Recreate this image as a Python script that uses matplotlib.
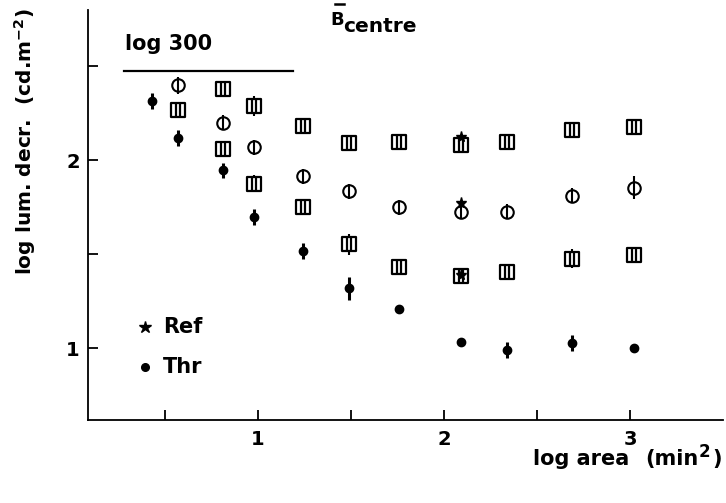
import numpy as np
import matplotlib.pyplot as plt
from matplotlib.path import Path
from matplotlib.lines import Line2D

# log area (min^2) of the test fields
log_area = [0.43, 0.57, 0.81, 0.98, 1.24, 1.49, 1.76, 2.09, 2.34, 2.69, 3.02]

# threshold (filled symbols), all areas
thr = [2.315, 2.12, 1.947, 1.70, 1.518, 1.318, 1.21, 1.03, 0.99, 1.028, 0.998]
thr_err = [0.042, 0.042, 0.04, 0.042, 0.042, 0.06, 0.0, 0.0, 0.042, 0.042, 0.0]

# open circles, from the second area on
circ = [2.40, 2.20, 2.07, 1.916, 1.835, 1.75, 1.725, 1.725, 1.81, 1.855]
circ_err = [0.045, 0.04, 0.04, 0.04, 0.04, 0.04, 0.04, 0.04, 0.04, 0.06]

# upper squares, from the third area on
sq_hi = [2.38, 2.29, 2.18, 2.09, 2.10, 2.08, 2.10, 2.16, 2.177]
sq_hi_err = [0.0, 0.055, 0.0, 0.0, 0.0, 0.0, 0.0, 0.0, 0.0]

# lower squares, from the second area on
sq_lo = [2.27, 2.06, 1.875, 1.75, 1.553, 1.43, 1.385, 1.405, 1.477, 1.495]
sq_lo_err = [0.0, 0.0, 0.045, 0.0, 0.055, 0.0, 0.0, 0.0, 0.05, 0.0]

# reference points at log area 2.09
ref_x = [2.09, 2.09, 2.09]
ref_y = [2.124, 1.77, 1.39]

log300 = np.log10(300)

plt.rcParams['font.family'] = 'DejaVu Sans'
plt.rcParams['font.weight'] = 'bold'

# square with two inner vertical strokes
sq_path = Path(
    [(-1, -1), (1, -1), (1, 1), (-1, 1), (-1, -1),
     (-0.3, -1), (-0.3, 1), (0.3, -1), (0.3, 1)],
    [Path.MOVETO, Path.LINETO, Path.LINETO, Path.LINETO, Path.CLOSEPOLY,
     Path.MOVETO, Path.LINETO, Path.MOVETO, Path.LINETO])

fig = plt.figure(figsize=(7.26, 5.03), dpi=100)
ax = fig.add_axes([0.1212, 0.165, 0.8747, 0.815])

ax.errorbar(log_area, thr, yerr=thr_err, fmt='o', ms=6, color='black',
            elinewidth=2.2, capsize=0, zorder=3)
ax.errorbar(log_area[1:], circ, yerr=circ_err, fmt='o', ms=9, mfc='none',
            mec='black', mew=1.5, color='black', elinewidth=1.5, capsize=0, zorder=3)
ax.errorbar(log_area[2:], sq_hi, yerr=sq_hi_err, fmt='none', ecolor='black',
            elinewidth=1.5, capsize=0, zorder=2)
ax.plot(log_area[2:], sq_hi, linestyle='none', marker=sq_path, ms=9.5,
        mfc='white', mec='black', mew=1.6, zorder=3)
ax.errorbar(log_area[1:], sq_lo, yerr=sq_lo_err, fmt='none', ecolor='black',
            elinewidth=1.5, capsize=0, zorder=2)
ax.plot(log_area[1:], sq_lo, linestyle='none', marker=sq_path, ms=9.5,
        mfc='white', mec='black', mew=1.6, zorder=3)
ax.plot(ref_x, ref_y, linestyle='none', marker='*', ms=8, color='black', zorder=4)

# legend drawn by hand
ax.plot([0.39], [1.113], marker='*', ms=9, color='black', linestyle='none')
ax.plot([0.39], [0.90], marker='o', ms=5.5, color='black', linestyle='none')
ax.text(0.49, 1.113, 'Ref', fontsize=15, fontweight='bold', va='center')
ax.text(0.49, 0.90, 'Thr', fontsize=15, fontweight='bold', va='center')

# log 300 limit
ax.plot([0.28, 1.19], [log300, log300], color='black', lw=1.6)
ax.text(0.285, log300 + 0.09, 'log 300', fontsize=15, fontweight='bold', va='bottom')

ax.set_xlim(0.086, 3.5)
ax.set_ylim(0.617, 2.80)
ax.set_xticks([0.5, 1, 1.5, 2, 2.5, 3])
ax.set_xticklabels(['', '1', '', '2', '', '3'])
ax.set_yticks([1, 1.5, 2, 2.5])
ax.set_yticklabels(['1', '', '2', ''])
ax.tick_params(direction='in', length=7, width=1.3, labelsize=14, pad=7)
ax.tick_params(axis='y', pad=6)
for lab in ax.get_xticklabels() + ax.get_yticklabels():
    lab.set_fontweight('bold')
for side in ['top', 'right']:
    ax.spines[side].set_visible(False)
for side in ['left', 'bottom']:
    ax.spines[side].set_linewidth(1.3)

# panel title: B with a bar, subscript centre
fig.text(330 / 726, 1 - 25 / 503, 'B', fontsize=13, fontweight='bold', va='baseline')
fig.text(343 / 726, 1 - 32 / 503, 'centre', fontsize=14.5, fontweight='bold', va='baseline')
fig.add_artist(Line2D([335 / 726, 344 / 726], [1 - 4 / 503, 1 - 4 / 503],
                      color='black', lw=1.8))

fig.text(25 / 726, 1 - 142 / 503, r'log lum. decr.  (cd.m$^{\mathbf{-2}}$)',
         fontsize=14.5, fontweight='bold', rotation=90, ha='center', va='center')

# x axis title, pieced together so the unit keeps its wide spacing
fig.text(533 / 726, 1 - 465 / 503, 'log area', fontsize=15, fontweight='bold', va='baseline')
fig.text(645 / 726, 1 - 465 / 503, '(min', fontsize=15, fontweight='bold', va='baseline')
fig.text(699 / 726, 1 - 457 / 503, '2', fontsize=12, fontweight='bold', va='baseline')
fig.text(712 / 726, 1 - 465 / 503, ')', fontsize=15, fontweight='bold', va='baseline')

fig.savefig('out.png', dpi=100, facecolor='white')
